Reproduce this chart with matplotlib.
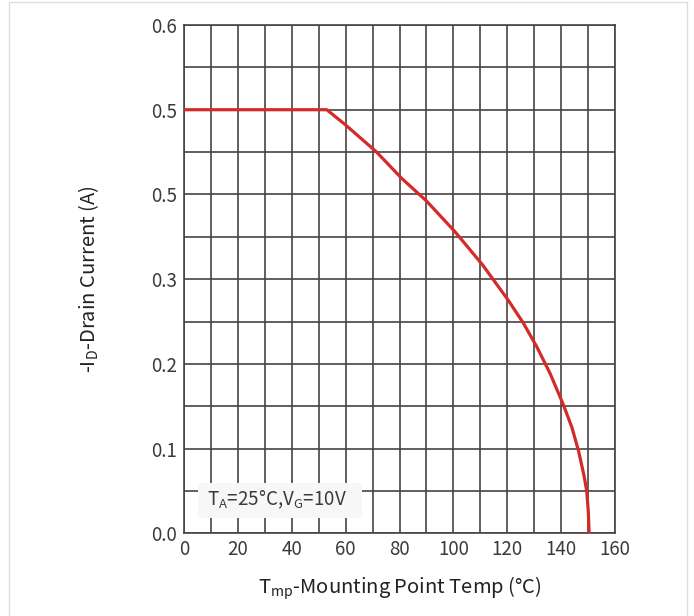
import matplotlib
matplotlib.use("Agg")
import matplotlib.pyplot as plt
import numpy as np
from matplotlib.patches import Rectangle

plt.rcParams['font.family'] = ['Noto Sans CJK SC', 'DejaVu Sans']
plt.rcParams['font.weight'] = 'light'
plt.rcParams['mathtext.fontset'] = 'custom'
plt.rcParams['mathtext.rm'] = 'Noto Sans CJK SC:light'

# Data
temp = [0, 53, 60, 71.5, 80.8, 90.1, 100.6, 110.8, 120.4, 126, 131, 136, 140.8, 144, 146.4, 148.5, 149.5, 150.1, 150.4]
current = [0.5, 0.5, 0.482, 0.45, 0.419, 0.392, 0.356, 0.317, 0.275, 0.248, 0.220, 0.188, 0.152, 0.125, 0.098, 0.068, 0.050, 0.025, 0.0]
x_ticks = [0, 20, 40, 60, 80, 100, 120, 140, 160]
y_ticks = [0.0, 0.1, 0.2, 0.3, 0.4, 0.5, 0.6]
y_tick_labels = ['0.0', '0.1', '0.2', '0.3', '0.5', '0.5', '0.6']
annotation = r'T$_\mathregular{A}$=25°C,V$_\mathregular{G}$=10V'

fig = plt.figure(figsize=(6.94, 6.16), dpi=100)
ax = fig.add_axes([184/694, 1-533.3/616, (615-184)/694, (533.3-25)/616])

grid_color = '#4a4242'
ax.set_xlim(0, 160)
ax.set_ylim(0, 0.6)
ax.set_xticks(x_ticks)
ax.set_xticks(np.arange(0, 161, 10), minor=True)
ax.set_yticks(y_ticks)
ax.set_yticklabels(y_tick_labels)
ax.set_yticks(np.arange(0, 0.601, 0.05), minor=True)
ax.grid(True, which='both', color=grid_color, lw=1.2)
ax.set_axisbelow(True)
ax.tick_params(which='both', length=0, labelsize=13.5, labelcolor='#3a3a3a')
ax.tick_params(axis='y', pad=5)
ax.tick_params(axis='x', pad=4)
for s in ax.spines.values():
    s.set_color(grid_color)
    s.set_linewidth(1.2)

ax.plot(temp, current, color='#d42a2a', lw=2.3, zorder=5, solid_capstyle='butt', solid_joinstyle='round')

ax.add_patch(Rectangle((5.2, 0.018), 60.8, 0.041, facecolor='#f7f7f7', edgecolor='none', zorder=3))
ax.text(34.5, 0.040, annotation, fontsize=13.5, color='#3a3a3a', ha='center', va='center', zorder=4)

ax.set_xlabel(r'T$_\mathregular{mp}$-Mounting Point Temp (°C)', fontsize=14.5, color='#222222', labelpad=10)
ax.set_ylabel(r'-I$_\mathregular{D}$-Drain Current (A)', fontsize=14.5, color='#222222', labelpad=36)

fig.add_artist(Rectangle((9/694, -0.1), (687-9)/694, 1.1 - 2/616, transform=fig.transFigure,
                         facecolor='none', edgecolor='#dddddd', lw=1))

fig.savefig('out.png', dpi=100)
